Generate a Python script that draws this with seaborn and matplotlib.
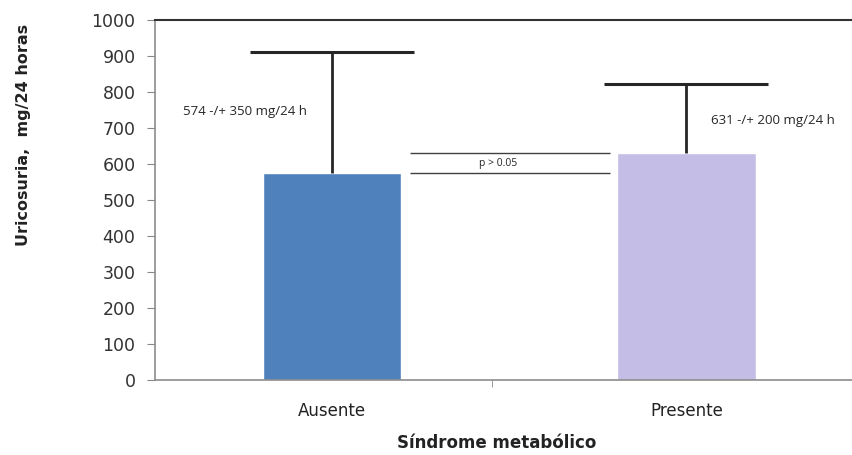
import pandas as pd
import matplotlib
matplotlib.use("Agg")
import matplotlib.pyplot as plt
import seaborn as sns

# Data
grupos = ["Ausente", "Presente"]
media = [574, 631]
error_sup = [336, 190]
etiquetas = ["574 -/+ 350 mg/24 h", "631 -/+ 200 mg/24 h"]
colores = ["#4F81BD", "#C4BDE5"]
y_ticks = [0, 100, 200, 300, 400, 500, 600, 700, 800, 900, 1000]

data = pd.DataFrame({"grupo": grupos, "media": media})

sns.set_style("white")
plt.rcParams["font.family"] = ["DejaVu Sans"]

fig = plt.figure(figsize=(8.53, 4.55), dpi=100)
ax = fig.add_axes([0.1817, 0.1648, 0.8183, 0.7912])

sns.barplot(x="grupo", y="media", data=data, hue="grupo", palette=colores,
            width=0.39, legend=False, ax=ax, saturation=1)

# upper error bars only
eb = ax.errorbar(range(len(grupos)), media, yerr=[[0, 0], error_sup], fmt="none",
                 ecolor="#262626", elinewidth=2, capsize=59, capthick=2.2, zorder=3)
eb[1][0].set_visible(False)  # no cap at the bar top

# mean +/- labels
ax.text(-0.42, 745, etiquetas[0], fontsize=9.5, family="Open Sans", va="center")
ax.text(1.07, 722, etiquetas[1], fontsize=9.5, family="Open Sans", va="center")

# comparison lines
ax.hlines(media, 0.22, 0.785, color="#404040", lw=1)
ax.text(0.468, (media[0] + media[1]) / 2, "p > 0.05", ha="center", va="center",
        fontsize=7.5, family="Open Sans")

ax.set_ylim(0, 1000)
ax.set_xlim(-0.5, 1.47)
ax.set_yticks(y_ticks)
ax.set_yticklabels([str(v) for v in y_ticks], fontsize=12.5, color="#333333")
ax.set_xticks([0, 1])
ax.set_xticklabels(grupos, fontsize=12, color="#222222")
ax.set_xticks([0.45], minor=True)
ax.tick_params(axis="x", which="major", length=0, pad=16)
ax.tick_params(axis="x", which="minor", length=5, color="#888888", direction="out",
               bottom=True)
ax.tick_params(axis="y", length=6, color="#888888", direction="out", left=True, pad=8)

for s in ["left", "bottom"]:
    ax.spines[s].set_color("#8c8c8c")
    ax.spines[s].set_linewidth(1.2)
ax.spines["top"].set_color("#333333")
ax.spines["top"].set_linewidth(1.5)
ax.spines["right"].set_visible(False)

ax.set_ylabel("Uricosuria,  mg/24 horas", fontsize=11.5, fontweight="bold", color="#222222")
ax.yaxis.set_label_coords(-0.178, 0.68)
ax.set_xlabel("Síndrome metabólico", fontsize=12, fontweight="bold", color="#222222")
ax.xaxis.set_label_coords(0.49, -0.15)

fig.savefig("out.png", dpi=100)
